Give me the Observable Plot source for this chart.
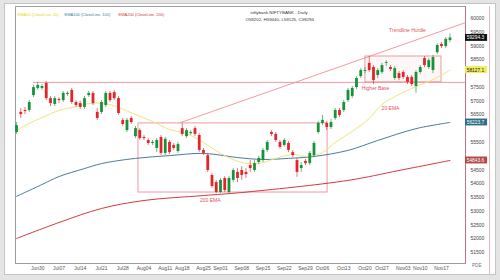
<!DOCTYPE html>
<html><head><meta charset="utf-8">
<script src="https://cdn.jsdelivr.net/npm/d3@7"></script>
<script src="https://cdn.jsdelivr.net/npm/@observablehq/plot@0.6"></script>
<style>
html,body{margin:0;padding:0;background:#e4e4e4;width:500px;height:280px;overflow:hidden;}
#wrap{position:absolute;left:5px;top:4px;width:490px;height:270px;background:#fff;outline:1px solid #c4c4c4;}
#pink{position:absolute;left:484px;top:2px;width:0;height:268px;border-left:1px solid #f0b4c4;}
</style></head><body>
<div id="wrap"><div id="pink"></div></div>
<script>
// Daily candles (index 0 = Jun 23 ... index 102 = Nov 19)
const opens = [55860,56590,56660,56660,57200,57460,57460,57640,57090,56880,57060,57020,57240,57390,56950,56910,56770,57200,57280,56590,56590,56840,57280,57310,57090,56300,55930,56370,55710,55930,55680,55570,55460,55280,55680,55100,55500,55390,55170,56000,55710,55820,56000,55750,55210,55020,54300,54040,53680,54190,53680,54120,54410,54480,54410,54660,54480,54770,54840,55210,55860,55790,55500,55390,55460,55130,54840,54550,54810,54730,55020,55860,56190,56190,56040,56370,56660,56660,57020,57170,57490,57890,58080,58370,58220,57930,58040,58370,58220,57820,58000,58040,57860,57860,57530,58040,58550,58220,58110,58760,59060,58980,59200];
const highs = [56220,56730,56770,57020,57570,57680,57600,57710,57170,57170,57130,57350,57350,57460,57020,56990,57170,57350,57350,56730,57020,57350,57350,57390,57170,56370,56370,56440,56080,56000,55750,55640,55570,55640,55750,55680,55570,55460,55500,56190,56000,55930,56080,55820,55280,55100,54370,54120,54190,54260,54260,54550,54550,54620,54550,54840,54840,54990,55280,55570,55930,55860,55570,55640,55530,55210,54920,54770,54880,55170,55530,56260,56480,56260,56330,56730,56730,57020,57460,57530,57890,58180,58220,58620,58290,58180,58370,58470,58290,58260,58080,58110,57930,57930,58110,58290,58620,58550,58660,59090,59130,59310,59440];
const lows = [55790,56370,56510,56590,57130,57390,57390,57020,56800,56800,56910,56950,57170,56880,56770,56700,56700,57130,56840,56300,56510,56770,56950,57020,56480,56080,55860,56150,55640,55570,55570,55390,55390,55130,55020,55020,55060,55210,55100,55710,55640,55750,55710,55130,55020,54410,53830,53640,53640,53680,53640,54040,54040,54120,54190,54410,54410,54700,54770,55130,55710,55500,55240,55320,55130,54950,54230,54410,54660,54660,54950,55790,56110,55930,55970,56300,56400,56590,56950,57090,57420,57820,58000,58040,57600,57820,57970,58260,58080,57750,57750,57780,57600,57530,57280,57970,58220,58150,58000,58690,58910,58910,59125];
const closes = [56110,56510,56620,56950,57490,57570,57530,57090,56910,57090,57020,57280,57280,56950,56840,56770,57090,57280,56910,56370,56950,57280,57020,57090,56550,56150,56300,56220,56000,55640,55640,55460,55500,55570,55100,55610,55130,55280,55420,55790,55930,55860,55790,55210,55100,54480,53900,53680,54120,53750,54190,54480,54190,54300,54330,54550,54730,54920,55210,55500,55790,55570,55320,55570,55210,55020,54410,54660,54730,55100,55460,56190,56300,56040,56220,56660,56480,56950,57390,57460,57820,58110,58110,58110,57750,58110,58290,58400,58150,58180,57820,57860,57680,57600,58040,58220,58290,58470,58580,59020,58980,59240,59294];

// x-axis week labels (candle index of each Monday)
const tickIndex = [5,10,15,20,25,30,35,39,44,48,53,58,63,68,72,77,82,86,91,95,100];
const tickLabels = ["Jun30","Jul07","Jul14","Jul21","Jul28","Aug04","Aug11","Aug18","Aug25","Sep01","Sep08","Sep15","Sep22","Sep29","Oct06","Oct13","Oct20","Oct27","Nov03","Nov10","Nov17"];
// price labels that are visible (the ones under the value tags are hidden)
const yTicks = [51500,52000,52500,53000,53500,54000,54500,55500,56500,57000,57500,58500,59000,59500,60000];

// EMA lines (candle index, value)
const ema20Idx = [0,3,6,10,14,17,21,24,28,32,36,40,44,48,53,57,61,65,68,72,75,79,83,86,90,94,98,102];
const ema20Val = [55930,56190,56400,56660,56800,56910,56910,56770,56510,56260,55970,55820,55500,55100,54770,54730,54920,55060,54990,55130,55500,55900,56370,56880,57240,57530,57780,58127];
const ema100Idx = [0,6,10,16,20,28,36,44,52,58,64,70,78,85,94,102];
const ema100Val = [53540,53970,54260,54550,54730,54920,55020,55100,54950,54880,54920,54990,55210,55570,56000,56224];
const ema200Idx = [0,10,20,30,44,53,78,90,102];
const ema200Val = [52010,52590,53100,53390,53570,53680,54120,54480,54844];

// Right-axis value tags
const tagValues = [59294.3, 58127.1, 56223.7, 54843.6];
const tagFill = ["#111111", "#f1ec5c", "#2f6d88", "#b44848"];
const tagText = ["#ffffff", "#222222", "#ffffff", "#ffffff"];

// Drawn annotations
const bigBoxX = [28.7, 73.2], bigBoxY = [53680, 56190];
const baseBoxX = [82.1, 100], baseBoxY = [57680, 58620];
const resistanceLevel = 57680, resistanceStart = 4;
const trendX = [38.6, 105.65], trendY = [56220, 59850];
const annoText = ["Trendline Hurdle", "Higher Base", "20 EMA", "200 EMA"];
const annoX = [92, 84.5, 88, 45.6];
const annoY = [59560, 57460, 56730, 53390];

const legendText = ["EMA20 (CloseLine, 20)", "EMA100 (CloseLine, 100)", "EMA200 (CloseLine, 200)"];
const legendColor = ["#e4d800", "#3f7a9c", "#d23a3a"];
const titleText = ["niftybank NIFTYBANK - Daily", "O59202, H59440, L59125, C59294"];

const candles = opens.map((o, i) => ({i, o, h: highs[i], l: lows[i], c: closes[i], up: closes[i] >= o}));
const GREEN = "#17913a", RED = "#e3242b";
const xDomain = [-0.235, 105.65];
const yDomain = [51102, 60436];
const xMax = xDomain[1];
const tagW = 5.2, tagHalf = 125;
const tickMap = new Map(tickIndex.map((d, k) => [d, tickLabels[k]]));
const pts = (xs, ys) => xs.map((x, k) => ({x, y: ys[k]}));
const ANN = "#ef8e96";

const chart = Plot.plot({
  width: 490, height: 270,
  marginLeft: 10, marginTop: 2, marginRight: 30, marginBottom: 11,
  x: {domain: xDomain, axis: null},
  y: {domain: yDomain, axis: null},
  style: {background: "white", fontFamily: "'Liberation Sans', Arial, sans-serif", fontSize: "5px", overflow: "visible"},
  marks: [
    Plot.frame({stroke: "#9c9c9c"}),
    Plot.ruleX([xMax], {stroke: "#c27088"}),
    // annotations
    Plot.rect([0], {x1: () => bigBoxX[0], x2: () => bigBoxX[1], y1: () => bigBoxY[0], y2: () => bigBoxY[1], fill: "none", stroke: ANN, strokeWidth: 0.9}),
    Plot.rect([0], {x1: () => baseBoxX[0], x2: () => baseBoxX[1], y1: () => baseBoxY[0], y2: () => baseBoxY[1], fill: "#fdf0f0", fillOpacity: 0.5, stroke: ANN, strokeWidth: 0.9}),
    Plot.ruleY([resistanceLevel], {x1: resistanceStart, x2: xMax, stroke: ANN, strokeWidth: 0.9}),
    Plot.line(pts(trendX, trendY), {x: "x", y: "y", stroke: ANN, strokeWidth: 0.9}),
    // EMAs
    Plot.line(pts(ema200Idx, ema200Val), {x: "x", y: "y", stroke: "#d03a44", strokeWidth: 1, curve: "catmull-rom"}),
    Plot.line(pts(ema100Idx, ema100Val), {x: "x", y: "y", stroke: "#4a7c9c", strokeWidth: 1, curve: "catmull-rom"}),
    Plot.line(pts(ema20Idx, ema20Val), {x: "x", y: "y", stroke: "#efe57a", strokeWidth: 1, curve: "catmull-rom"}),
    // candles
    Plot.ruleX(candles, {x: "i", y1: "l", y2: "h", stroke: d => d.up ? GREEN : RED, strokeWidth: 0.8, strokeOpacity: 0.8}),
    Plot.ruleX(candles, {x: "i", y1: "o", y2: "c", stroke: d => d.up ? GREEN : RED, strokeWidth: 2.8}),
    // annotation texts
    Plot.text(annoText, {x: (d, k) => annoX[k], y: (d, k) => annoY[k], text: d => d, fill: "#e2525a", fontSize: 5}),
    // header
    Plot.text([legendText[0]], {frameAnchor: "top-left", dx: 2, dy: 7, text: d => d, fill: legendColor[0], textAnchor: "start", fontSize: 4}),
    Plot.text([legendText[1]], {frameAnchor: "top-left", dx: 49, dy: 7, text: d => d, fill: legendColor[1], textAnchor: "start", fontSize: 4}),
    Plot.text([legendText[2]], {frameAnchor: "top-left", dx: 103, dy: 7, text: d => d, fill: legendColor[2], textAnchor: "start", fontSize: 4}),
    Plot.text([titleText[0]], {frameAnchor: "top-left", dx: 235, dy: 4, text: d => d, fill: "#333", fontSize: 4.4}),
    Plot.text([titleText[1]], {frameAnchor: "top-left", dx: 230, dy: 11, text: d => d, fill: "#333", fontSize: 4.4}),
    // axes
    Plot.axisY({ticks: yTicks, anchor: "right", tickSize: 0, tickPadding: 5, tickFormat: d => String(d), fontSize: 5, fill: "#444"}),
    Plot.axisX({ticks: tickIndex, anchor: "bottom", tickSize: 0, tickPadding: 3, tickFormat: d => tickMap.get(d), fontSize: 5, fill: "#555"}),
    // value tags
    Plot.rect(tagValues, {x1: xMax, x2: xMax + tagW, y1: d => d - tagHalf, y2: d => d + tagHalf, fill: (d, k) => tagFill[k]}),
    Plot.text(tagValues, {x: xMax + 0.3, y: d => d, text: d => d.toFixed(1), fill: (d, k) => tagText[k], textAnchor: "start", fontSize: 4.8}),
    Plot.text(["PDE"], {frameAnchor: "bottom-right", dx: 16, dy: 3, text: d => d, fill: "#777", fontSize: 4.6})
  ]
});
document.getElementById("wrap").appendChild(chart);
</script>
</body></html>
